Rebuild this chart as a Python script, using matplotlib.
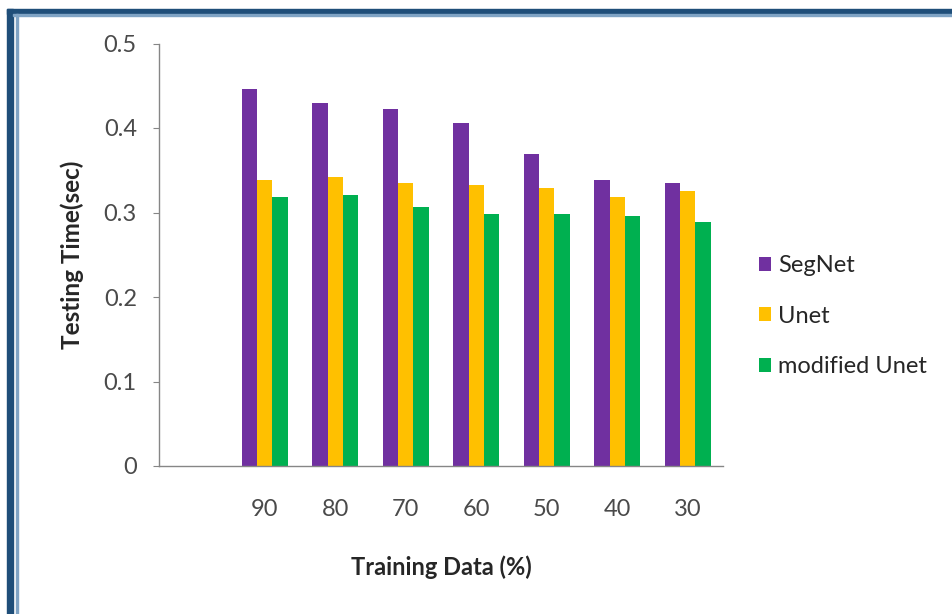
import matplotlib
matplotlib.use("Agg")
import matplotlib.pyplot as plt
from matplotlib.patches import Rectangle
import numpy as np

# testing time per model for each training split
training_pct = ['90', '80', '70', '60', '50', '40', '30']
segnet = [0.446, 0.430, 0.423, 0.406, 0.369, 0.338, 0.335]
unet = [0.338, 0.342, 0.335, 0.332, 0.329, 0.318, 0.326]
modified_unet = [0.318, 0.321, 0.307, 0.298, 0.298, 0.296, 0.289]

colors = ['#7030a0', '#ffc000', '#00b050']

fig = plt.figure(figsize=(9.52, 6.14), dpi=100)
ax = fig.add_axes([159 / 952, 1 - 466 / 614, (723 - 159) / 952, (466 - 43.5) / 614])

x = np.arange(1, len(training_pct) + 1)
w = 0.217
ax.bar(x - w, segnet, w, color=colors[0], label='SegNet')
ax.bar(x, unet, w, color=colors[1], label='Unet')
ax.bar(x + w, modified_unet, w, color=colors[2], label='modified Unet')

ax.set_xlim(-0.5, len(training_pct) + 0.5)
ax.set_ylim(0, 0.5)
ax.set_yticks([0, 0.1, 0.2, 0.3, 0.4, 0.5])
ax.set_yticklabels(['0', '0.1', '0.2', '0.3', '0.4', '0.5'])
ax.set_xticks(x)
ax.set_xticklabels(training_pct)

for lbl in ax.get_xticklabels() + ax.get_yticklabels():
    lbl.set_family('Lato')
ax.tick_params(axis='y', length=4, color='#868686', labelsize=17, labelcolor='#4a4a4a', pad=12)
ax.tick_params(axis='x', length=0, labelsize=17, labelcolor='#4a4a4a', pad=24)

for side in ['top', 'right']:
    ax.spines[side].set_visible(False)
for side in ['left', 'bottom']:
    ax.spines[side].set_color('#868686')
    ax.spines[side].set_linewidth(1)

ax.set_xlabel('Training Data (%)', fontsize=17, fontweight='bold', family='Lato', color='#262626', labelpad=25)
ax.set_ylabel('Testing Time(sec)', fontsize=17.5, fontweight='bold', family='Lato', color='#262626', labelpad=14)

fig.legend(loc='upper left', bbox_to_anchor=(759 / 952, 1 - 255 / 614), frameon=False,
           borderpad=0, borderaxespad=0,
           prop={'family': 'Lato', 'size': 17}, handlelength=0.52, handleheight=0.52,
           handletextpad=0.3, labelspacing=1.25, labelcolor='#262626')

# dark blue frame on the top and left edges
fig.patches.append(Rectangle((7 / 952, 0), 6 / 952, 1 - 9 / 614, transform=fig.transFigure,
                             color='#1f4e79', zorder=10))
fig.patches.append(Rectangle((7 / 952, 1 - 14 / 614), 1 - 7 / 952, 5 / 614, transform=fig.transFigure,
                             color='#1f4e79', zorder=10))
fig.patches.append(Rectangle((16 / 952, 0), 2 / 952, 1 - 14 / 614, transform=fig.transFigure,
                             color='#7fa3c4', zorder=10))
fig.patches.append(Rectangle((13 / 952, 1 - 16 / 614), 1 - 13 / 952, 2 / 614, transform=fig.transFigure,
                             color='#7fa3c4', zorder=10))

fig.savefig('out.png', dpi=100)
